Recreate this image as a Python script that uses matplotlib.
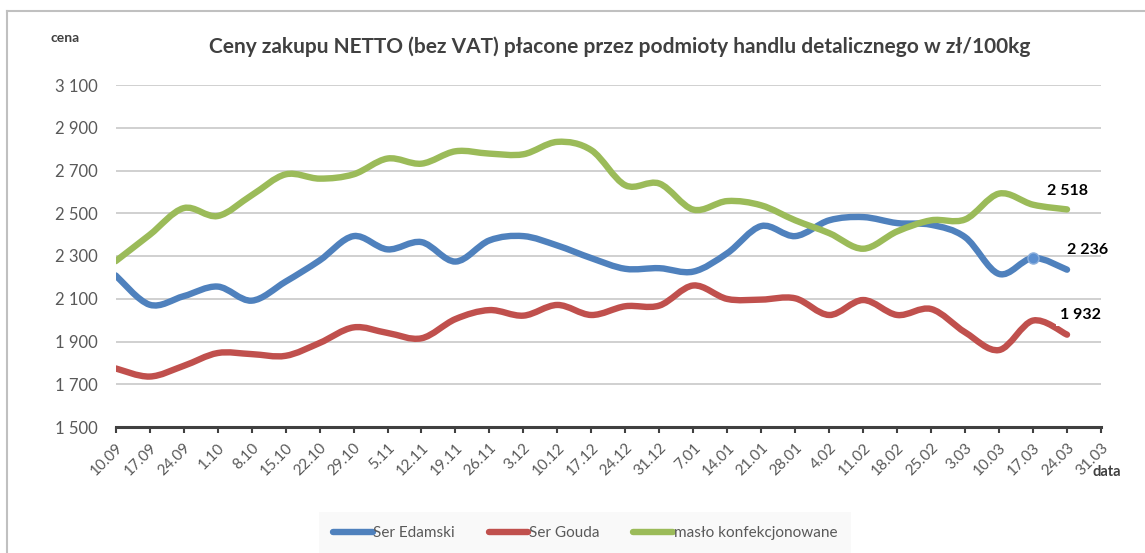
import numpy as np
import matplotlib
matplotlib.use("Agg")
import matplotlib.pyplot as plt
from matplotlib.path import Path
from matplotlib.patches import PathPatch
from matplotlib.lines import Line2D

plt.rcParams["font.family"] = ["Lato", "DejaVu Sans"]

# dane
daty = ["10.09", "17.09", "24.09", "1.10", "8.10", "15.10", "22.10", "29.10", "5.11", "12.11",
        "19.11", "26.11", "3.12", "10.12", "17.12", "24.12", "31.12", "7.01", "14.01", "21.01",
        "28.01", "4.02", "11.02", "18.02", "25.02", "3.03", "10.03", "17.03", "24.03", "31.03"]
ser_edamski = [2209, 2072, 2112, 2157, 2091, 2180, 2279, 2393, 2331, 2365,
               2274, 2373, 2393, 2349, 2290, 2240, 2243, 2227, 2313, 2440,
               2393, 2467, 2482, 2454, 2446, 2388, 2216, 2291, 2236]
ser_gouda = [1774, 1736, 1786, 1846, 1841, 1833, 1893, 1966, 1940, 1915,
             2005, 2047, 2021, 2071, 2024, 2065, 2068, 2162, 2099, 2096,
             2102, 2024, 2094, 2024, 2052, 1943, 1860, 1998, 1932]
maslo = [2276, 2399, 2524, 2487, 2584, 2682, 2662, 2682, 2756, 2732,
         2790, 2779, 2776, 2834, 2795, 2631, 2639, 2517, 2557, 2537,
         2467, 2407, 2334, 2415, 2467, 2471, 2592, 2540, 2518]
nazwy = ["Ser Edamski", "Ser Gouda", "masło konfekcjonowane"]
kolory = ["#4F81BD", "#C0504D", "#9BBB59"]
etykiety = ["2 236", "1 932", "2 518"]


def gladka_linia(xs, ys):
    # krzywa Catmull-Rom -> Bezier (jak wygładzona linia w Excelu)
    p = np.column_stack([xs, ys]).astype(float)
    p_ext = np.vstack([p[0], p, p[-1]])
    verts = [p[0]]
    codes = [Path.MOVETO]
    for i in range(len(p) - 1):
        p0, p1, p2, p3 = p_ext[i], p_ext[i + 1], p_ext[i + 2], p_ext[i + 3]
        c1 = p1 + (p2 - p0) / 6.0
        c2 = p2 - (p3 - p1) / 6.0
        verts += [c1, c2, p2]
        codes += [Path.CURVE4] * 3
    return Path(verts, codes)


fig = plt.figure(figsize=(11.45, 5.53), dpi=100)
ax = fig.add_axes([115.7 / 1145, 1 - 427 / 553, (1101 - 115.7) / 1145, (427 - 85) / 553])

x = np.arange(len(ser_edamski))
for ys, kol in zip([ser_edamski, ser_gouda, maslo], kolory):
    ax.add_patch(PathPatch(gladka_linia(x, ys), facecolor="none", edgecolor=kol,
                           lw=4.6, capstyle="round", joinstyle="round", zorder=3))
ax.plot([x[27]], [ser_edamski[27]], "o", ms=8, color="#5b8fd0", mec="#8db0dc", mew=1, zorder=4)

ax.set_xlim(0, len(daty) - 1)
ax.set_ylim(1500, 3100)
ax.set_yticks(np.arange(1500, 3101, 200))
ax.set_yticklabels([f"{v:,}".replace(",", " ") for v in range(1500, 3101, 200)],
                   fontsize=12, color="#595959")
ax.set_xticks(np.arange(len(daty)))
ax.set_xticklabels(daty, rotation=45, ha="right", rotation_mode="anchor",
                   fontsize=11, color="#595959")
ax.tick_params(axis="y", length=0, pad=13)
ax.tick_params(axis="x", length=4, width=1.5, color="#404040", pad=6)
ax.grid(axis="y", color="#c8c8c8", lw=1.2)
ax.set_axisbelow(True)
for s in ["top", "right", "left"]:
    ax.spines[s].set_visible(False)
ax.spines["bottom"].set_color("#404040")
ax.spines["bottom"].set_linewidth(2.2)

# etykiety wartości końcowych
ax.annotate(etykiety[2], (x[28], maslo[28]), xytext=(0, 13), textcoords="offset points",
            ha="center", va="center", fontsize=11.5, fontweight="bold", color="black")
ax.annotate(etykiety[0], (x[28], ser_edamski[28]), xytext=(15, 14), textcoords="offset points",
            ha="center", va="center", fontsize=11.5, fontweight="bold", color="black")
ax.annotate(etykiety[1], (x[28], ser_gouda[28]), xytext=(10, 14), textcoords="offset points",
            ha="center", va="center", fontsize=11.5, fontweight="bold", color="black", zorder=5,
            bbox=dict(boxstyle="square,pad=0.25", fc="white", ec="none"))

fig.text(620 / 1145, 1 - 47 / 553, "Ceny zakupu NETTO (bez VAT) płacone przez podmioty handlu detalicznego w zł/100kg",
         ha="center", va="center", fontsize=15, fontweight="bold", color="#404040")
fig.text(65 / 1145, 1 - 38 / 553, "cena", ha="center", va="center", fontsize=10,
         fontweight="bold", color="#404040")
fig.text(1107 / 1145, 1 - 472 / 553, "data", ha="center", va="center", fontsize=10.5,
         fontweight="bold", color="#404040")

# ramka wykresu (lewa i górna krawędź)
fig.add_artist(Line2D([7 / 1145, 7 / 1145], [0, 1 - 11 / 553], transform=fig.transFigure,
                      color="#c0c0c0", lw=1.5))
fig.add_artist(Line2D([7 / 1145, 1], [1 - 11 / 553, 1 - 11 / 553], transform=fig.transFigure,
                      color="#c0c0c0", lw=1.5))

uchwyty = [Line2D([], [], color=k, lw=4.6, solid_capstyle="round") for k in kolory]
leg = fig.legend(uchwyty, nazwy, loc="center", bbox_to_anchor=(585 / 1145, 1 - 533 / 553),
                 ncol=3, frameon=True, fontsize=11, handlelength=2.6, handletextpad=0.05,
                 columnspacing=2.2, borderpad=0.6)
leg.get_frame().set_facecolor("#f8f8f8")
leg.get_frame().set_edgecolor("none")
leg.get_frame().set_boxstyle("square")
for t in leg.get_texts():
    t.set_color("#595959")

fig.savefig("out.png", dpi=100)
